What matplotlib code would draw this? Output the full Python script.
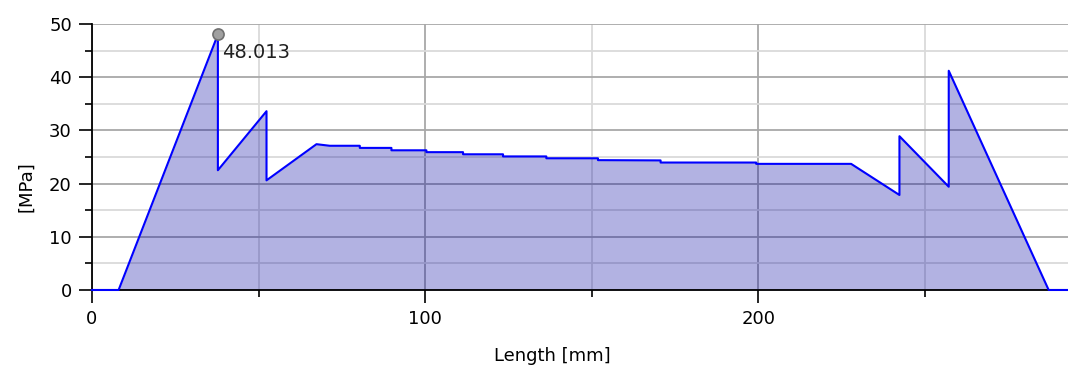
import numpy as np
import matplotlib
matplotlib.use('Agg')
import matplotlib.pyplot as plt
from matplotlib.ticker import MultipleLocator

# 길이 [mm] / 응력 [MPa]
length = [0, 8, 37.8, 37.8, 52.4, 52.4, 67.4, 71.4, 80.4, 80.4, 89.9, 89.9,
          100.4, 100.4, 111.4, 111.4, 123.4, 123.4, 136.4, 136.4, 151.9, 151.9,
          170.7, 170.7, 199.4, 199.4, 227.9, 242.4, 242.4, 257.2, 257.2, 287.2, 293]
stress = [0, 0, 48.013, 22.5, 33.6, 20.6, 27.4, 27.1, 27.1, 26.7, 26.7, 26.25,
          26.25, 25.9, 25.9, 25.5, 25.5, 25.1, 25.1, 24.75, 24.75, 24.4,
          24.35, 23.95, 23.95, 23.7, 23.7, 17.85, 28.9, 19.4, 41.2, 0, 0]

peak_x = 37.8
peak_y = 48.013

plt.rcParams['font.family'] = 'DejaVu Sans'

fig = plt.figure(figsize=(10.68, 3.68), dpi=100)
ax = fig.add_axes([0.0861, 0.212, 0.9139, 0.723])

ax.fill_between(length, stress, 0, color='#0000a0', alpha=0.3, lw=0, zorder=3)
ax.plot(length, stress, color='#0000ff', lw=1.5, zorder=8, clip_on=False)

# 최대값 표시
ax.plot(peak_x, peak_y, 'o', ms=8, mfc='#a0a0a0', mec='#707070', mew=1.2, zorder=9)
ax.annotate(f'{peak_y:.3f}', (peak_x, peak_y), xytext=(3, -17),
            textcoords='offset points', fontsize=14, color='#202020', zorder=9)

ax.set_xlim(0, 293)
ax.set_ylim(0, 50)
ax.xaxis.set_major_locator(MultipleLocator(100))
ax.xaxis.set_minor_locator(MultipleLocator(50))
ax.yaxis.set_major_locator(MultipleLocator(10))
ax.yaxis.set_minor_locator(MultipleLocator(5))

ax.grid(which='major', color='#a8a8a8', lw=1.3, zorder=1)
ax.grid(which='minor', color='#dadada', lw=1.3, zorder=1)
ax.set_axisbelow(True)

for s in ['top', 'right']:
    ax.spines[s].set_visible(False)
ax.spines['left'].set_linewidth(1.3)
ax.spines['bottom'].set_linewidth(1.3)
ax.spines['left'].set_zorder(7)
ax.spines['bottom'].set_zorder(7)

ax.tick_params(which='major', direction='out', length=9.5, width=1.2, pad=5,
               labelsize=13, colors='black')
ax.tick_params(which='minor', direction='out', length=5, width=1.2)

ax.set_xlabel('Length [mm]', fontsize=13)
ax.set_ylabel('[MPa]', fontsize=13)
ax.xaxis.set_label_coords(0.472, -0.215)
ax.yaxis.set_label_coords(-0.058, 0.39)

fig.savefig('out.png', dpi=100)
